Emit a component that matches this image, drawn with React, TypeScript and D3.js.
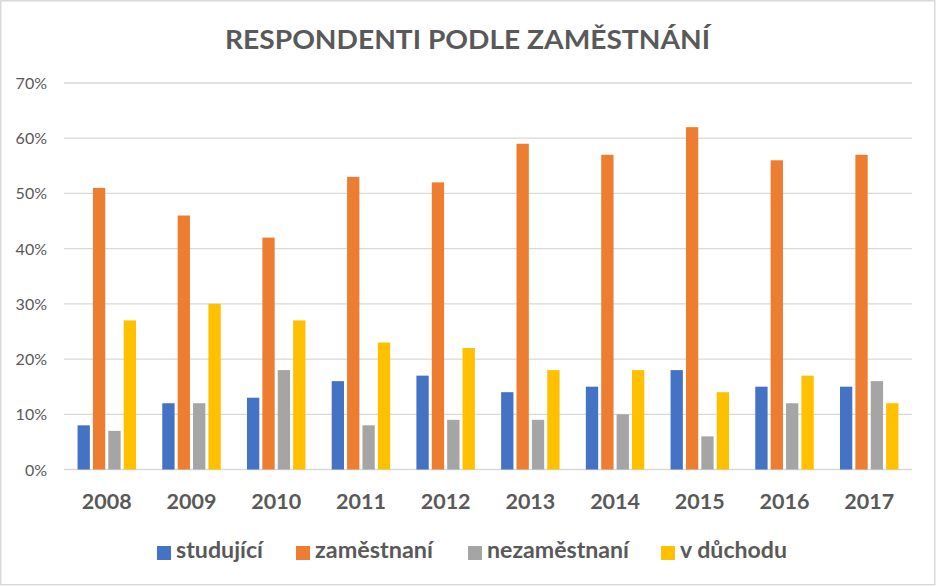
import React from "react";
import { scaleBand, scaleLinear, range } from "d3";

const years = ["2008", "2009", "2010", "2011", "2012", "2013", "2014", "2015", "2016", "2017"];
const seriesNames = ["studující", "zaměstnaní", "nezaměstnaní", "v důchodu"];
const seriesColors = ["#4472C4", "#ED7D31", "#A5A5A5", "#FFC000"];

// values in percent
const studujici = [8, 12, 13, 16, 17, 14, 15, 18, 15, 15];
const zamestnani = [51, 46, 42, 53, 52, 59, 57, 62, 56, 57];
const nezamestnani = [7, 12, 18, 8, 9, 9, 10, 6, 12, 16];
const vDuchodu = [27, 30, 27, 23, 22, 18, 18, 14, 17, 12];
const yTicks = [0, 10, 20, 30, 40, 50, 60, 70];

const W = 936;
const H = 586;
const font = "Lato, 'Open Sans', sans-serif";
const textColor = "#595959";

// legend layout (x of swatch, text width)
const legendX = [157, 296, 468, 661];
const legendW = [87, 118, 142, 107];

export default function App() {
  const series = [studujici, zamestnani, nezamestnani, vDuchodu];
  const left = 64;
  const right = 912;
  const top = 83;
  const bottom = 469.5;

  const x0 = scaleBand<string>().domain(years).range([left, right]).paddingInner(0.31).paddingOuter(0.16);
  const x1 = scaleBand<number>().domain(range(series.length)).range([0, x0.bandwidth()]).paddingInner(0.2);
  const y = scaleLinear().domain([0, 70]).range([bottom, top]);

  return (
    <svg width={W} height={H} style={{ position: "absolute", left: 0, top: 0, background: "#fff" }}>
      <rect x={0.75} y={0.75} width={W - 2} height={H - 2} fill="#fff" stroke="#d9d9d9" strokeWidth={1.5} />
      <text
        x={467.5}
        y={48.5}
        textAnchor="middle"
        fontFamily={font}
        fontWeight="bold"
        fontSize={26.5}
        fill={textColor}
        textLength={485}
        lengthAdjust="spacingAndGlyphs"
      >
        RESPONDENTI PODLE ZAMĚSTNÁNÍ
      </text>
      {yTicks.map((t) => (
        <g key={t}>
          <line x1={left} x2={right} y1={y(t)} y2={y(t)} stroke="#d9d9d9" strokeWidth={1.3} />
          <text x={47} y={y(t) + 6} textAnchor="end" fontFamily={font} fontSize={16} fill={textColor}>
            {t}%
          </text>
        </g>
      ))}
      {years.map((yr, i) => (
        <g key={yr} transform={`translate(${x0(yr)},0)`}>
          {series.map((s, j) => (
            <rect
              key={j}
              x={x1(j)}
              y={y(s[i])}
              width={x1.bandwidth()}
              height={y(0) - y(s[i])}
              fill={seriesColors[j]}
            />
          ))}
          <text
            x={x0.bandwidth() / 2}
            y={509}
            textAnchor="middle"
            fontFamily={font}
            fontWeight="bold"
            fontSize={21.5}
            fill={textColor}
          >
            {yr}
          </text>
        </g>
      ))}
      {seriesNames.map((name, j) => (
        <g key={name} transform={`translate(${legendX[j]},0)`}>
          <rect x={0} y={546} width={14} height={14} fill={seriesColors[j]} />
          <text
            x={19}
            y={558}
            fontFamily={font}
            fontWeight="bold"
            fontSize={23}
            fill={textColor}
            textLength={legendW[j]}
            lengthAdjust="spacingAndGlyphs"
          >
            {name}
          </text>
        </g>
      ))}
    </svg>
  );
}
